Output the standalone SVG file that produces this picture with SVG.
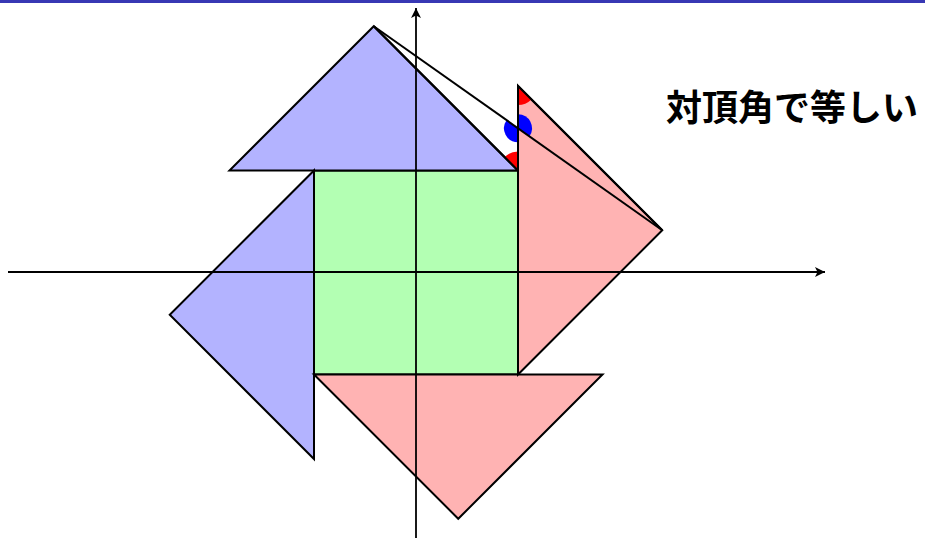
<svg xmlns="http://www.w3.org/2000/svg" width="925" height="538" viewBox="0 0 925 538">
<defs>
<style>
.shape{stroke:#000;stroke-width:2;stroke-linejoin:miter}
.blue{fill:#b3b3ff}
.red{fill:#ffb3b3}
.green{fill:#b3ffb3}
.edge{fill:none;stroke:#000;stroke-width:2}
.axis{stroke:#000;stroke-width:1.8;fill:none}
.lbl{font-family:"Noto Sans CJK JP","Noto Sans",sans-serif;font-weight:bold;font-size:36px;fill:#000}
</style>
<marker id="arr" markerUnits="userSpaceOnUse" markerWidth="12" markerHeight="12" refX="10" refY="5" orient="auto">
<path d="M0,0 L10,5 L0,10 L2.5,5 Z" fill="#000"/>
</marker>
</defs>
<rect x="0" y="0" width="925" height="3" fill="#3838b4"/>
<g id="square"><rect class="shape green" x="314" y="170.5" width="204" height="204"/></g>
<g id="blue-top"><polygon class="shape blue" points="229.5,170.5 518,170.5 373.75,26.25"/></g>
<g id="blue-left"><polygon class="shape blue" points="314,170.5 314,459 169.75,314.75"/></g>
<g id="red-bottom"><polygon class="shape red" points="314,374.5 602.5,374.5 458.25,518.75"/></g>
<g id="red-right"><polygon class="shape red" points="518,374.5 518,86 662.25,230.25"/></g>
<g id="angles">
<path d="M518,86 L518,105 A19,19 0 0 0 531.4,99.4 Z" fill="#ff0000"/>
<path d="M518,170.5 L518,151.5 A19,19 0 0 0 504.6,157.1 Z" fill="#ff0000"/>
<path d="M518,128.25 L506.57,120.17 A14,14 0 0 0 518,142.25 Z" fill="#0000ff"/>
<path d="M518,128.25 L529.43,136.33 A14,14 0 0 0 518,114.25 Z" fill="#0000ff"/>
<polyline class="edge" points="518,170.5 373.75,26.25"/>
<polyline class="edge" points="518,170.5 518,86 662.25,230.25"/>
</g>
<g id="connectors">
<line class="axis" x1="8" y1="272" x2="825" y2="272" marker-end="url(#arr)"/>
<line class="axis" x1="416" y1="538" x2="416" y2="8" marker-end="url(#arr)"/>
<line class="edge" x1="373.75" y1="26.25" x2="662.25" y2="230.25"/>
</g>
<g id="label"><text class="lbl" x="666" y="121">対頂角で等しい</text></g>
</svg>
